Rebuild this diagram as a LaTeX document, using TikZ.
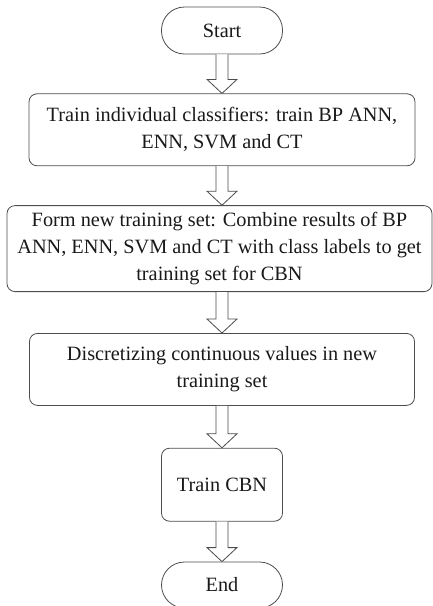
\documentclass[tikz,border=0pt]{standalone}
\usepackage{fontspec}
\setmainfont{Liberation Serif}
\usetikzlibrary{positioning,calc}

\newcommand{\flowarrow}[2]{%
\coordinate (base) at (start |- #1.south);
\coordinate (tip) at (start |- #2.north);
\draw[flow] ($(base)+(-6pt,0)$) -- ($(tip)+(-6pt,14pt)$) -- ($(tip)+(-15pt,14pt)$) -- (tip)
	-- ($(tip)+(15pt,14pt)$) -- ($(tip)+(6pt,14pt)$) -- ($(base)+(6pt,0)$);}

\begin{document}
\begin{tikzpicture}[x=1pt,y=1pt,
				every node/.style={draw=black!70,line width=0.8pt,text=black!90,
					font=\fontsize{20.3pt}{27pt}\selectfont,align=center,inner sep=2pt},
				terminal/.style={rounded corners=23pt,minimum width=121pt,minimum height=47pt},
				stepbox/.style={rounded corners=8pt},
				flow/.style={draw=black!70,line width=0.8pt,fill=white}]
\useasboundingbox (0,0) rectangle (433,-606);
\node[terminal] (start) at (222,-30.5) {Start};
\node[stepbox,minimum width=386pt,minimum height=72pt,below=39pt of start] (train)
	{Train individual classifiers: train BP ANN,\\ ENN, SVM and CT};
\node[stepbox,minimum width=425pt,minimum height=86pt,below=39pt of train,xshift=-2.5pt] (form)
	{Form new training set: Combine results of BP\\ ANN, ENN, SVM and CT with class labels to get\\ training set for CBN};
\node[stepbox,minimum width=385pt,minimum height=72pt,below=41pt of form,xshift=2.5pt] (disc)
	{Discretizing continuous values in new\\ training set};
\node[stepbox,minimum width=121pt,minimum height=73pt,below=42pt of disc] (cbn) {Train CBN};
\node[terminal,minimum height=46pt,below=40pt of cbn] (end) {End};
\flowarrow{start}{train}
\flowarrow{train}{form}
\flowarrow{form}{disc}
\flowarrow{disc}{cbn}
\flowarrow{cbn}{end}
\end{tikzpicture}
\end{document}
